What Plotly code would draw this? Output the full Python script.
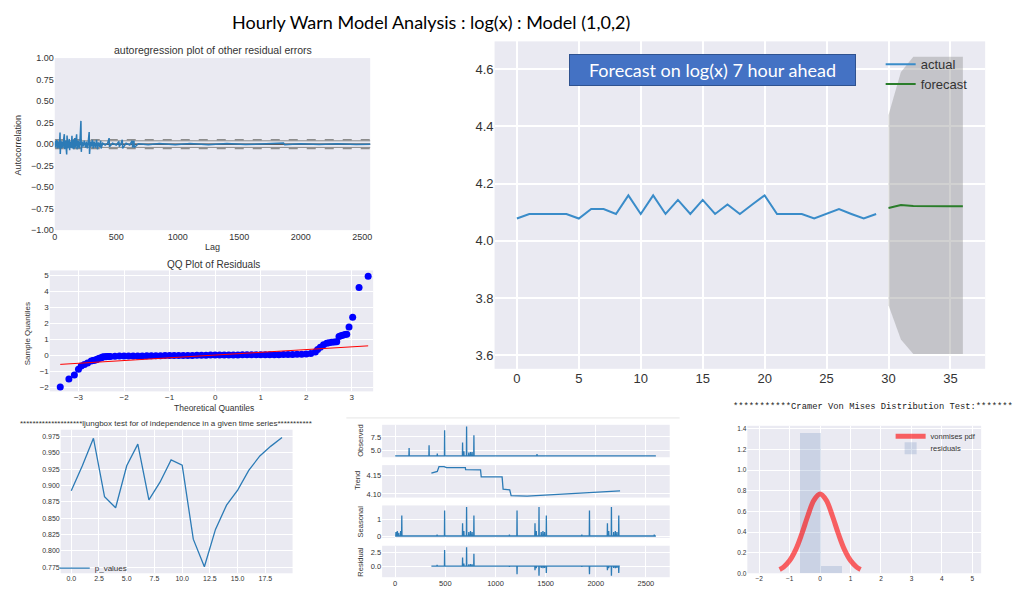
import plotly.graph_objects as go

W, H = 1019, 594
FONT = "Liberation Sans, Arial, sans-serif"
TXT = "#333333"
BG = "#EAEAF2"
BLUE = "#2c7bb6"

# ======================= DATA =======================
# Panel 1: autocorrelation of residual errors
acf_lag = [1, 4, 8, 12, 16, 20, 24, 28, 33, 38,
           43, 45, 50, 55, 60, 66, 72, 78, 80, 88,
           97, 100, 106, 112, 118, 121, 128, 134, 140, 143,
           150, 156, 162, 166, 172, 178, 181, 190, 198, 205,
           213, 216, 222, 230, 240, 250, 258, 265, 272, 280,
           283, 290, 296, 306, 312, 320, 330, 340, 347, 355,
           365, 374, 377, 390, 410, 430, 442, 445, 470, 500,
           522, 525, 540, 549, 552, 580, 610, 630, 633, 644,
           647, 680, 760, 850, 980, 1100, 1250, 1400, 1550, 1700,
           1860, 1870, 2000, 2150, 2300, 2450, 2599]
acf_val = [0.03, -0.04, 0.04, -0.03, 0.05, -0.05, 0.04, -0.04, 0.03, -0.05,
           0.135, -0.115, 0.04, -0.05, 0.03, -0.04, 0.05, 0.115, -0.06, 0.04,
           -0.12, 0.10, -0.05, 0.04, 0.06, -0.07, 0.03, -0.04, 0.096, -0.05,
           0.05, -0.06, 0.07, -0.04, 0.04, 0.115, -0.06, 0.04, -0.05, 0.03,
           0.27, -0.09, 0.03, -0.03, 0.04, -0.04, 0.03, -0.05, 0.02, 0.14,
           -0.115, 0.03, -0.03, 0.05, -0.05, 0.03, -0.04, 0.05, -0.06, 0.02,
           -0.03, 0.04, -0.05, 0.01, -0.01, 0.01, 0.07, -0.03, 0.01, -0.01,
           0.03, -0.03, 0.01, 0.05, -0.05, 0.01, -0.01, 0.04, -0.04, 0.04,
           -0.04, 0.005, -0.008, 0.006, -0.007, 0.006, -0.006, 0.007, -0.005, 0.006,
           0.012, -0.006, 0.005, -0.005, 0.004, -0.004, 0.0]
acf_band95 = 0.0384
acf_band99 = 0.0505

# Panel 2: QQ plot of residuals
qq_x_left = [-3.40, -3.21, -3.09, -3.00, -2.94, -2.87, -2.80, -2.72, -2.68, -2.65,
             -2.61, -2.58, -2.54, -2.50, -2.47, -2.44, -2.40, -2.37, -2.33]
qq_y_left = [-2.00, -1.49, -1.25, -0.88, -0.68, -0.59, -0.49, -0.37, -0.34, -0.32,
             -0.29, -0.25, -0.20, -0.16, -0.12, -0.11, -0.10, -0.09, -0.08]
qq_x_mid = [-2.3, -2.2, -2.1, -2.0, -1.9, -1.8, -1.7, -1.6, -1.5, -1.4,
            -1.3, -1.2, -1.1, -1.0, -0.9, -0.8, -0.7, -0.6, -0.5, -0.4,
            -0.3, -0.2, -0.1, 0.0, 0.1, 0.2, 0.3, 0.4, 0.5, 0.6,
            0.7, 0.8, 0.9, 1.0, 1.1, 1.2, 1.3, 1.4, 1.5, 1.6,
            1.7, 1.8, 1.9, 2.0, 2.1, 2.2]
qq_y_mid = [-0.08, -0.07, -0.06, -0.06, -0.06, -0.05, -0.05, -0.05, -0.04, -0.04,
            -0.04, -0.04, -0.03, -0.03, -0.03, -0.03, -0.02, -0.02, -0.02, -0.01,
            -0.01, -0.01, 0.0, 0.0, 0.0, 0.01, 0.01, 0.01, 0.01, 0.02,
            0.02, 0.02, 0.02, 0.02, 0.03, 0.03, 0.03, 0.03, 0.04, 0.04,
            0.04, 0.05, 0.05, 0.07, 0.10, 0.20]
qq_x_right = [2.25, 2.31, 2.38, 2.45, 2.50, 2.56, 2.62, 2.67, 2.72, 2.76,
              2.80, 2.85, 2.89, 2.94, 3.02, 3.16, 3.36]
qq_y_right = [0.35, 0.49, 0.65, 0.74, 0.77, 0.80, 0.82, 0.84, 1.17, 1.21,
              1.25, 1.29, 1.31, 1.76, 2.37, 4.24, 4.93]
qq_line_x = [-3.40, 3.36]
qq_line_y = [-0.58, 0.58]

# Panel 3: Ljung-Box p-values
lb_lag = list(range(20))
lb_pvalues = [0.892, 0.930, 0.972, 0.883, 0.866, 0.930, 0.963, 0.878, 0.905, 0.939,
              0.931, 0.818, 0.776, 0.833, 0.870, 0.893, 0.923, 0.945, 0.960, 0.973]

# Panel 4: seasonal decomposition (spike positions / heights)
obs_range = [0, 2599]
obs_base = 4.1
obs_spike_pos = [139, 338, 420, 493, 672, 685, 712, 734, 751, 767, 785, 1414]
obs_spike_val = [5.5, 6.0, 4.5, 8.7, 6.5, 4.9, 9.4, 4.7, 4.8, 4.8, 7.8, 4.4]

trend_x = [361, 420, 437, 487, 513, 700, 702, 851, 858, 1066, 1076, 1142, 1156, 1315, 2242]
trend_y = [4.156, 4.161, 4.174, 4.174, 4.171, 4.171, 4.166, 4.165, 4.146, 4.146,
           4.113, 4.111, 4.095, 4.094, 4.108]

seas_range = [0, 2599]
seas_base = 0.02
seas_spike_pos = [8, 21, 36, 55, 66, 418, 493, 672, 685, 712, 734, 751, 767, 785,
                  1139, 1215, 1394, 1407, 1434, 1456, 1473, 1489, 1507,
                  1861, 1937, 2116, 2129, 2156, 2178, 2195, 2211, 2229, 2583]
seas_spike_val = [0.25, 0.3, 0.2, 0.3, 1.2, 0.1, 1.5, 0.75, 0.3, 1.7, 0.25, 0.3, 0.25, 1.2,
                  0.1, 1.5, 0.75, 0.3, 1.7, 0.25, 0.3, 0.25, 1.2,
                  0.1, 1.5, 0.75, 0.3, 1.7, 0.25, 0.3, 0.25, 1.2, 0.1]

resid_range = [361, 2239]
resid_base = 0.05
resid_spike_pos = [418, 493, 672, 685, 712, 734, 751, 767, 785, 1139, 1215, 1394, 1407, 1434,
                   1456, 1473, 1489, 1507, 1861, 1937, 2116, 2129, 2156, 2178, 2195, 2211, 2229]
resid_spike_val = [0.3, 3.0, 1.6, 0.5, 3.5, 0.4, 0.45, 0.4, 2.3, -0.1, -1.4, -0.7, -0.3, -1.7,
                   -0.25, -0.3, -0.25, -1.2, -0.1, -1.4, -0.7, -0.3, -1.7, -0.25, -0.3, -0.25, -1.2]

# Panel 5: Cramer von Mises - histogram and pdf
hist_center = [-0.315, 0.375]
hist_height = [1.36, 0.075]
hist_width = 0.69
vm_x = [-1.33, -1.2, -1.0, -0.8, -0.6, -0.4, -0.2, 0.0, 0.2, 0.4, 0.6, 0.8, 1.0, 1.2, 1.33]
vm_y = [0.037, 0.060, 0.123, 0.229, 0.383, 0.560, 0.709, 0.768, 0.709, 0.560, 0.383, 0.229, 0.123, 0.060, 0.037]

# Panel 6: forecast
actual_x = list(range(30))
actual_y = [4.078, 4.094, 4.094, 4.094, 4.094, 4.078, 4.111, 4.111, 4.094, 4.159,
            4.094, 4.159, 4.094, 4.143, 4.094, 4.143, 4.094, 4.127, 4.094, 4.127,
            4.159, 4.094, 4.094, 4.094, 4.078, 4.094, 4.111, 4.094, 4.078, 4.094]
fc_x = [30, 31, 32, 33, 34, 35, 36]
fc_y = [4.115, 4.125, 4.122, 4.121, 4.121, 4.121, 4.121]
ci_upper = [4.44, 4.59, 4.643, 4.643, 4.643, 4.643, 4.643]
ci_lower = [3.775, 3.655, 3.605, 3.605, 3.605, 3.605, 3.605]


# ======================= HELPERS =======================
def dx(x0, x1):
    return [x0 / W, x1 / W]


def dy(y0, y1):
    return [1 - y1 / H, 1 - y0 / H]


def px(x):
    return x / W


def py(y):
    return 1 - y / H


def spike_series(rng, base, pos, val):
    xs, ys = [rng[0]], [base]
    for p, v in zip(pos, val):
        xs += [p - 2, p, p + 2]
        ys += [base, v, base]
    xs.append(rng[1])
    ys.append(base)
    return xs, ys


fig = go.Figure()

# ---- Panel 1: ACF
for yv, dash, w, col in [(acf_band99, "dash", 1.6, "#8c8c8c"), (-acf_band99, "dash", 1.6, "#8c8c8c"),
                         (acf_band95, "solid", 1.0, "#8c8c8c"), (-acf_band95, "solid", 1.0, "#8c8c8c"),
                         (0.0, "solid", 1.0, "#000000")]:
    fig.add_trace(go.Scatter(x=[0, 2600], y=[yv, yv], mode="lines",
                             line=dict(color=col, width=w, dash=dash),
                             xaxis="x", yaxis="y", showlegend=False, hoverinfo="skip"))
fig.add_trace(go.Scatter(x=acf_lag, y=acf_val, mode="lines", line=dict(color=BLUE, width=1.5),
                         xaxis="x", yaxis="y", showlegend=False))

# ---- Panel 2: QQ
fig.add_trace(go.Scatter(x=qq_x_left + qq_x_mid + qq_x_right, y=qq_y_left + qq_y_mid + qq_y_right,
                         mode="markers", marker=dict(color="#0000ff", size=7, line=dict(width=0)),
                         xaxis="x2", yaxis="y2", showlegend=False))
fig.add_trace(go.Scatter(x=qq_line_x, y=qq_line_y, mode="lines", line=dict(color="#ff0000", width=1),
                         xaxis="x2", yaxis="y2", showlegend=False))

# ---- Panel 3: Ljung-Box
fig.add_trace(go.Scatter(x=lb_lag, y=lb_pvalues, mode="lines", name="p_values",
                         line=dict(color=BLUE, width=1.3), xaxis="x3", yaxis="y3", legend="legend2"))

# ---- Panel 4: decomposition
ox, oy = spike_series(obs_range, obs_base, obs_spike_pos, obs_spike_val)
sx, sy = spike_series(seas_range, seas_base, seas_spike_pos, seas_spike_val)
rx, ry = spike_series(resid_range, resid_base, resid_spike_pos, resid_spike_val)
for xs, ys, ax in [(ox, oy, "4"), (trend_x, trend_y, "5"), (sx, sy, "6"), (rx, ry, "7")]:
    fig.add_trace(go.Scatter(x=xs, y=ys, mode="lines", line=dict(color=BLUE, width=1.3),
                             xaxis="x" + ax, yaxis="y" + ax, showlegend=False))

# ---- Panel 5: Cramer von Mises
fig.add_trace(go.Scatter(x=vm_x, y=vm_y, mode="lines", name="vonmises pdf", line_shape="spline",
                         line=dict(color="rgba(255,0,0,0.6)", width=5), xaxis="x8", yaxis="y8",
                         legend="legend3"))
fig.add_trace(go.Bar(x=hist_center, y=hist_height, width=hist_width, name="residuals",
                     marker=dict(color="rgba(76,114,176,0.2)", line=dict(width=0)),
                     xaxis="x8", yaxis="y8", legend="legend4"))

# ---- Panel 6: forecast
fig.add_trace(go.Scatter(x=fc_x, y=ci_upper, mode="lines", line=dict(width=0, color="rgba(0,0,0,0)"),
                         xaxis="x9", yaxis="y9", showlegend=False, hoverinfo="skip"))
fig.add_trace(go.Scatter(x=fc_x, y=ci_lower, mode="lines", line=dict(width=0, color="rgba(0,0,0,0)"),
                         fill="tonexty", fillcolor="rgba(140,140,140,0.4)",
                         xaxis="x9", yaxis="y9", showlegend=False, hoverinfo="skip"))
fig.add_trace(go.Scatter(x=actual_x, y=actual_y, mode="lines", name="actual",
                         line=dict(color="#3a8cc9", width=2), xaxis="x9", yaxis="y9", legend="legend"))
fig.add_trace(go.Scatter(x=fc_x, y=fc_y, mode="lines", name="forecast",
                         line=dict(color="#2a7d2a", width=2), xaxis="x9", yaxis="y9", legend="legend"))


# ======================= AXES =======================
def axis(domain, rng, tickvals, anchor, size, fmt=None, grid=True, labels=True, gw=1):
    d = dict(domain=domain, range=rng, tickvals=tickvals, anchor=anchor, showgrid=grid,
             gridcolor="white", gridwidth=gw, zeroline=False, showline=False, ticks="",
             showticklabels=labels, tickfont=dict(family=FONT, size=size, color=TXT))
    if fmt:
        d["tickformat"] = fmt
    return d


dec_x = dx(381, 670)
dec_ticks = [0, 500, 1000, 1500, 2000, 2500]
dec_rng = [-130, 2737]


def leg(x, y, size):
    return dict(x=px(x), y=py(y), xanchor="left", yanchor="top", bgcolor="rgba(0,0,0,0)",
                font=dict(family=FONT, size=size, color=TXT), itemwidth=30, tracegroupgap=0,
                traceorder="normal")


fig.update_layout(
    width=W, height=H, margin=dict(l=0, r=0, t=0, b=0),
    paper_bgcolor="white", plot_bgcolor=BG,
    xaxis=axis(dx(52, 369), [0, 2565], dec_ticks, "y", 9, grid=False),
    yaxis=axis(dy(54, 229), [-1, 1], [-1, -0.75, -0.5, -0.25, 0, 0.25, 0.5, 0.75, 1], "x", 9, ".2f", grid=False),
    xaxis2=axis(dx(47, 372), [-3.63, 3.47], [-3, -2, -1, 0, 1, 2, 3], "y2", 8),
    yaxis2=axis(dy(270, 393), [-2.27, 5.3], [-2, -1, 0, 1, 2, 3, 4, 5], "x2", 8),
    xaxis3=axis(dx(58, 291), [-0.95, 19.95], [0, 2.5, 5, 7.5, 10, 12.5, 15, 17.5], "y3", 7, ".1f"),
    yaxis3=axis(dy(432, 578), [0.766, 0.985],
                [0.775, 0.8, 0.825, 0.85, 0.875, 0.9, 0.925, 0.95, 0.975], "x3", 7, ".3f"),
    xaxis4=axis(dec_x, dec_rng, dec_ticks, "y4", 7.5, labels=False),
    yaxis4=axis(dy(427, 460), [3.84, 9.7], [5.0, 7.5], "x4", 7.5, ".1f"),
    xaxis5=axis(dec_x, dec_rng, dec_ticks, "y5", 7.5, labels=False),
    yaxis5=axis(dy(468, 501), [4.09, 4.178], [4.10, 4.15], "x5", 7.5, ".2f"),
    xaxis6=axis(dec_x, dec_rng, dec_ticks, "y6", 7.5, labels=False),
    yaxis6=axis(dy(509, 542), [-0.09, 1.79], [0, 1], "x6", 7.5),
    xaxis7=axis(dec_x, dec_rng, dec_ticks, "y7", 7.5),
    yaxis7=axis(dy(550, 582), [-1.96, 3.76], [0.0, 2.5], "x7", 7.5, ".1f"),
    xaxis8=axis(dx(748, 983), [-2.39, 5.29], [-2, -1, 0, 1, 2, 3, 4, 5], "y8", 6.5),
    yaxis8=axis(dy(428, 578), [0, 1.43], [0, 0.2, 0.4, 0.6, 0.8, 1.0, 1.2, 1.4], "x8", 6.5, ".1f"),
    xaxis9=axis(dx(494, 987), [-1.8, 37.8], [0, 5, 10, 15, 20, 25, 30, 35], "y9", 13, gw=1.5),
    yaxis9=axis(dy(37, 370), [3.553, 4.697], [3.6, 3.8, 4.0, 4.2, 4.4, 4.6], "x9", 13, ".1f", gw=1.5),
    bargap=0,
    legend=leg(882, 45, 13),
    legend2=leg(52, 558, 8),
    legend3=leg(892, 424, 7.5),
    legend4=leg(892, 436, 7.5),
)


# ======================= TEXT =======================
def note(text, x, y, size, angle=0, family=FONT, color=TXT, xanchor="center"):
    return dict(text=text, x=px(x), y=py(y), xref="paper", yref="paper", showarrow=False,
                font=dict(family=family, size=size, color=color), textangle=angle,
                xanchor=xanchor, yanchor="middle")


annotations = [
    note("Hourly Warn Model Analysis : log(x) : Model (1,0,2)", 430, 17, 18, family="Lato, Open Sans, sans-serif",
         color="#000000"),
    note("autoregression plot of other residual errors", 211, 46, 10.5),
    note("Lag", 211, 246, 9),
    note("Autocorrelation", 15, 142, 9, angle=-90),
    note("QQ Plot of Residuals", 212, 264, 10),
    note("Theoretical Quantiles", 212, 410, 8.5),
    note("Sample Quantiles", 24, 334, 8, angle=-90),
    note("********************ljungbox test for of independence in a given time series***********",
         164, 426, 8),
    note("Observed", 359, 443, 7.5, angle=-90),
    note("Trend", 357, 484, 7.5, angle=-90),
    note("Seasonal", 359, 525, 7.5, angle=-90),
    note("Residual", 359, 566, 7.5, angle=-90),
    note("***********Cramer Von Mises Distribution Test:*******", 732, 409, 8.8,
         family="Liberation Mono, Courier New, monospace", color="#222222", xanchor="left"),
    dict(text="Forecast on log(x) 7 hour ahead", x=px(713), y=py(66), xref="paper", yref="paper",
         showarrow=False, font=dict(family="Lato, Open Sans, sans-serif", size=18, color="white"),
         bgcolor="#4472C4", bordercolor="#2F528F", borderwidth=1, width=283, height=28,
         xanchor="center", yanchor="middle"),
]
fig.update_layout(annotations=annotations)

fig.add_shape(type="line", xref="paper", yref="paper", x0=px(345), x1=px(680), y0=py(420), y1=py(420),
              line=dict(color="#e6e6e6", width=1))

fig.write_html("out.html")
